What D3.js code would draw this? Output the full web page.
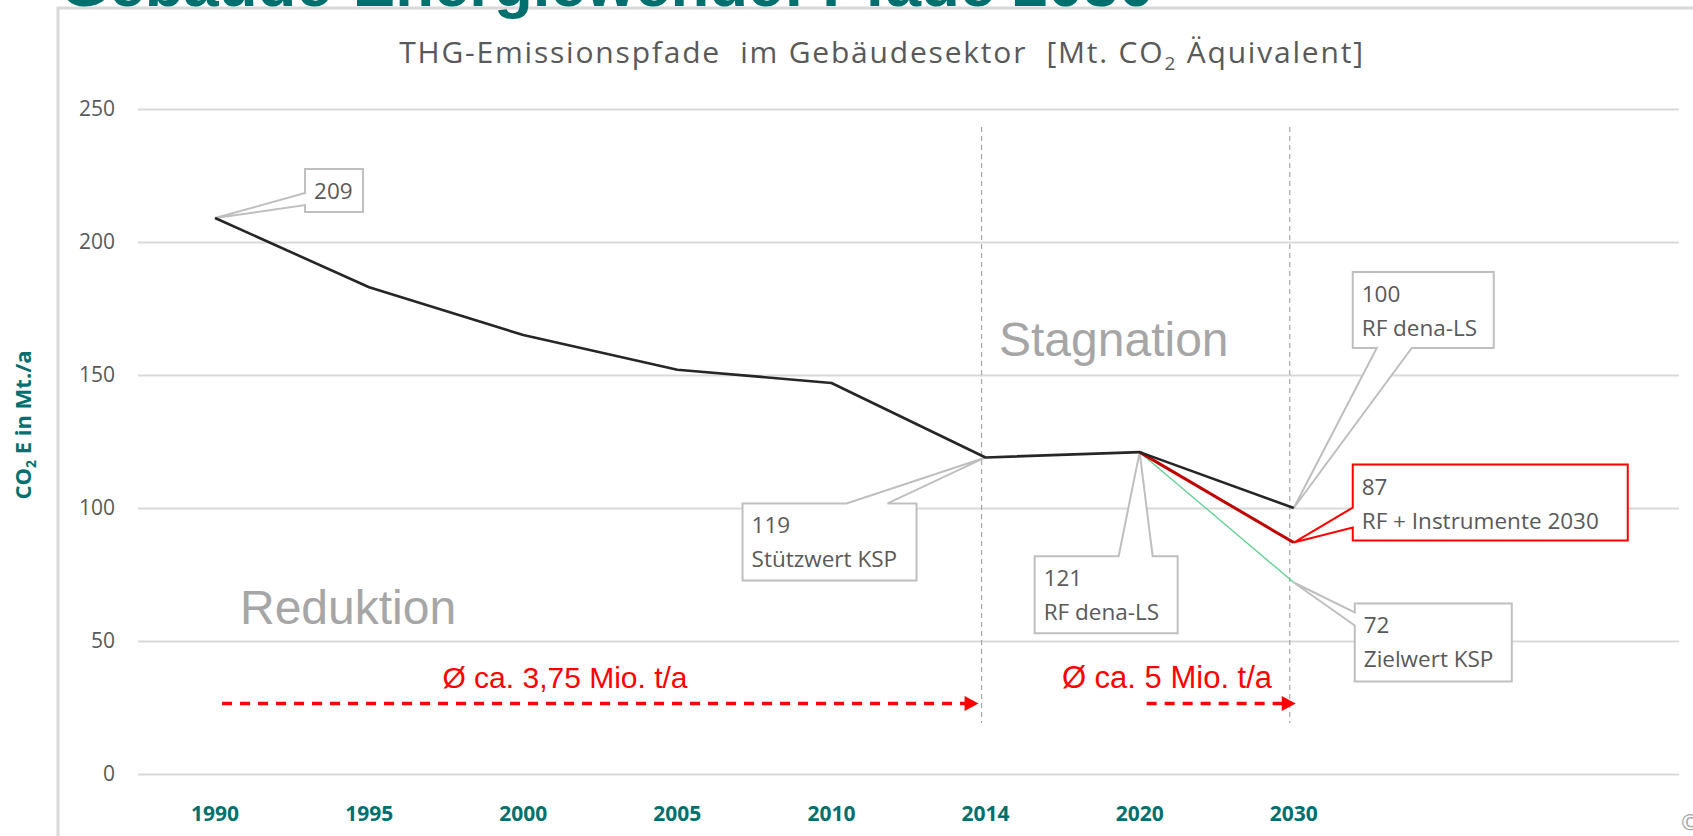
<!DOCTYPE html>
<html>
<head>
<meta charset="utf-8">
<script src="https://cdn.jsdelivr.net/npm/d3@7"></script>
<style>
    html, body { margin: 0; padding: 0; background: #fff; overflow: hidden; }
    svg { display: block; font-family: "Open Sans", sans-serif; }
</style>
</head>
<body>
<div id="chart"></div>
<script>
"use strict"

// x categories; the sheet keeps two empty slots on the right
const years = ["1990", "1995", "2000", "2005", "2010", "2014", "2020", "2030"];
const emptySlots = 2;

// main path (RF dena-LS)
const mainValues = [209, 183, 165, 152, 147, 119, 121, 100];

// scenarios 2020 -> 2030
const scenarioYears = ["2020", "2030"];
const instrumentValues = [121, 87];
const targetValues = [121, 72];

const yTicks = [0, 50, 100, 150, 200, 250];
const markerYears = ["2014", "2030"];

// callouts: anchor + text lines
const calloutYears = ["1990", "2014", "2020", "2030", "2030", "2030"];
const calloutValues = [209, 119, 121, 100, 87, 72];
const calloutLines = [
    ["209"],
    ["119", "Stützwert KSP"],
    ["121", "RF dena-LS"],
    ["100", "RF dena-LS"],
    ["87", "RF + Instrumente 2030"],
    ["72", "Zielwert KSP"]
];

// reduction arrows
const arrowFrom = ["1990", "2020"];
const arrowTo = ["2014", "2030"];
const arrowLabels = ["Ø ca. 3,75 Mio. t/a", "Ø ca. 5 Mio. t/a"];
const arrowLevel = 26.5;

const phaseLabels = ["Reduktion", "Stagnation"];

// --- layout (kept apart from the data) ---
const W = 1693, H = 836;
const plot = { left: 138, right: 1679, top: 109, bottom: 774 };
const teal = "#00706e";

// box offset relative to anchor point, size, side of the pointer, pointer base on that side
const calloutLayout = [
    { dx: 90, dy: -49, w: 58, h: 43, side: "left", a1: 24, a2: 36, red: false },
    { dx: -243, dy: 46, w: 174, h: 77, side: "top", a1: 104, a2: 145, red: false },
    { dx: -105, dy: 104, w: 143, h: 77, side: "top", a1: 84, a2: 118, red: false },
    { dx: 59, dy: -236, w: 141, h: 76, side: "bottom", a1: 24, a2: 59, red: false },
    { dx: 59, dy: -78, w: 275, h: 76, side: "left", a1: 43, a2: 63, red: true },
    { dx: 61, dy: 21, w: 157, h: 78, side: "left", a1: 9, a2: 22, red: false }
];
const arrowLayout = [
    { x1: 7, x2: -7, labelX: 565 },
    { x1: 7, x2: 2, labelX: 1167 }
];

let svg = d3.select("#chart").append("svg")
    .attr("width", W)
    .attr("height", H);

let slots = years.concat(d3.range(emptySlots).map(i => "_" + i));
let band = d3.scaleBand()
    .domain(slots)
    .range([plot.left, plot.right]);
let x = function (year) {
    return band(year) + band.bandwidth() / 2;
};
let y = d3.scaleLinear()
    .domain([0, 250])
    .range([plot.bottom, plot.top]);

/* panel frame */
svg.append("path")
    .attr("d", `M58,${H} L58,8 L${W},8`)
    .attr("fill", "none")
    .attr("stroke", "#d9d9d9")
    .attr("stroke-width", 3);

/* grid + y labels */
let yAxis = svg.append("g")
    .attr("transform", `translate(${plot.left},0)`)
    .call(d3.axisLeft(y)
        .tickValues(yTicks)
        .tickSize(-(plot.right - plot.left))
        .tickPadding(23));
yAxis.select(".domain").remove();
yAxis.selectAll(".tick line")
    .attr("stroke", "#d9d9d9")
    .attr("stroke-width", 2);
yAxis.selectAll(".tick text")
    .attr("fill", "#595959")
    .style("font-family", "Open Sans, sans-serif")
    .style("font-size", "21px");

/* x labels */
svg.append("g").selectAll("text")
    .data(years)
    .enter().append("text")
    .attr("x", d => x(d))
    .attr("y", 821)
    .attr("text-anchor", "middle")
    .attr("fill", teal)
    .style("font-size", "21px")
    .style("font-weight", "bold")
    .text(d => d);

/* y title */
let yTitle = svg.append("text")
    .attr("transform", "translate(31,425) rotate(-90)")
    .attr("text-anchor", "middle")
    .attr("fill", teal)
    .style("font-size", "22px")
    .style("font-weight", "bold");
yTitle.append("tspan").text("CO");
yTitle.append("tspan").attr("dy", 5).style("font-size", "14px").text("2");
yTitle.append("tspan").attr("dy", -5).text(" E in Mt./a");

/* dashed markers */
svg.append("g").selectAll("line")
    .data(markerYears)
    .enter().append("line")
    .attr("x1", d => x(d) - 4)
    .attr("x2", d => x(d) - 4)
    .attr("y1", 127)
    .attr("y2", 723)
    .attr("stroke", "#a6a6a6")
    .attr("stroke-width", 1.2)
    .attr("stroke-dasharray", "5,4");

/* callouts */
function calloutPath(b, tx, ty) {
    let p = d3.path();
    let r = b.x + b.w, btm = b.y + b.h;
    if (b.side === "left") {
        p.moveTo(b.x, b.y); p.lineTo(r, b.y); p.lineTo(r, btm); p.lineTo(b.x, btm);
        p.lineTo(b.x, b.y + b.a2); p.lineTo(tx, ty); p.lineTo(b.x, b.y + b.a1);
    } else if (b.side === "top") {
        p.moveTo(b.x, b.y); p.lineTo(b.x + b.a1, b.y); p.lineTo(tx, ty); p.lineTo(b.x + b.a2, b.y);
        p.lineTo(r, b.y); p.lineTo(r, btm); p.lineTo(b.x, btm);
    } else {
        p.moveTo(b.x, b.y); p.lineTo(r, b.y); p.lineTo(r, btm); p.lineTo(b.x + b.a2, btm);
        p.lineTo(tx, ty); p.lineTo(b.x + b.a1, btm); p.lineTo(b.x, btm);
    }
    p.closePath();
    return p.toString();
}

let calloutG = svg.append("g");
calloutLayout.forEach((lay, i) => {
    let tx = x(calloutYears[i]), ty = y(calloutValues[i]);
    let b = Object.assign({ x: tx + lay.dx, y: ty + lay.dy }, lay);
    calloutG.append("path")
        .attr("d", calloutPath(b, tx, ty))
        .attr("fill", "#fff")
        .attr("stroke", lay.red ? "#ff0000" : "#bfbfbf")
        .attr("stroke-width", 2)
        .attr("stroke-linejoin", "miter");
    calloutLines[i].forEach((line, j) => {
        calloutG.append("text")
            .attr("x", b.x + 9)
            .attr("y", b.y + 30 + j * 34)
            .attr("fill", "#595959")
            .style("font-size", "22.5px")
            .text(line);
    });
});

/* series */
let line = d3.line()
    .x(d => x(d[0]))
    .y(d => y(d[1]));

svg.append("path")
    .datum(d3.zip(scenarioYears, targetValues))
    .attr("d", line)
    .attr("fill", "none")
    .attr("stroke", "#5fcf8f")
    .attr("stroke-width", 1.3);

svg.append("path")
    .datum(d3.zip(scenarioYears, instrumentValues))
    .attr("d", line)
    .attr("fill", "none")
    .attr("stroke", "#c00000")
    .attr("stroke-width", 3);

svg.append("path")
    .datum(d3.zip(years, mainValues))
    .attr("d", line)
    .attr("fill", "none")
    .attr("stroke", "#262626")
    .attr("stroke-width", 2.6)
    .attr("stroke-linejoin", "round");

/* phase labels */
svg.append("text")
    .attr("x", 240).attr("y", 624)
    .attr("fill", "#a6a6a6")
    .style("font-family", "Liberation Sans, Arial, sans-serif")
    .style("font-size", "48px")
    .text(phaseLabels[0]);
svg.append("text")
    .attr("x", 999).attr("y", 356)
    .attr("fill", "#a6a6a6")
    .style("font-family", "Liberation Sans, Arial, sans-serif")
    .style("font-size", "48px")
    .text(phaseLabels[1]);

/* arrows */
arrowLayout.forEach((lay, i) => {
    let x1 = x(arrowFrom[i]) + lay.x1, x2 = x(arrowTo[i]) + lay.x2, ay = y(arrowLevel);
    svg.append("line")
        .attr("x1", x1).attr("x2", x2 - 12)
        .attr("y1", ay).attr("y2", ay)
        .attr("stroke", "#ff0000")
        .attr("stroke-width", 3.3)
        .attr("stroke-dasharray", "10,8");
    svg.append("path")
        .attr("d", `M${x2},${ay} L${x2 - 14},${ay - 7.5} L${x2 - 14},${ay + 7.5} Z`)
        .attr("fill", "#ff0000");
    svg.append("text")
        .attr("x", lay.labelX).attr("y", 688)
        .attr("text-anchor", "middle")
        .attr("fill", "#ff0000")
        .style("font-family", "Liberation Sans, Arial, sans-serif")
        .style("font-size", i === 1 ? "31px" : "30px")
        .text(arrowLabels[i]);
});

/* chart title */
let title = svg.append("text")
    .attr("x", 882).attr("y", 63)
    .attr("text-anchor", "middle")
    .attr("fill", "#595959")
    .style("font-size", "30px")
    .style("letter-spacing", "1.8px")
    .style("white-space", "pre");
title.append("tspan").text("THG-Emissionspfade  im Gebäudesektor  [Mt. CO");
title.append("tspan").attr("dy", 7).style("font-size", "19px").text("2");
title.append("tspan").attr("dy", -7).text(" Äquivalent]");

/* slide heading, cut off at the top */
svg.append("text")
    .attr("x", 60).attr("y", 6)
    .attr("fill", teal)
    .style("font-family", "Liberation Sans, Arial, sans-serif")
    .style("font-size", "63.5px")
    .style("font-weight", "bold")
    .text("Gebäude-Energiewende: Pfade 2030");

svg.append("text")
    .attr("x", 1681).attr("y", 830)
    .attr("fill", "#a6a6a6")
    .style("font-size", "22px")
    .text("©");
</script>
</body>
</html>
